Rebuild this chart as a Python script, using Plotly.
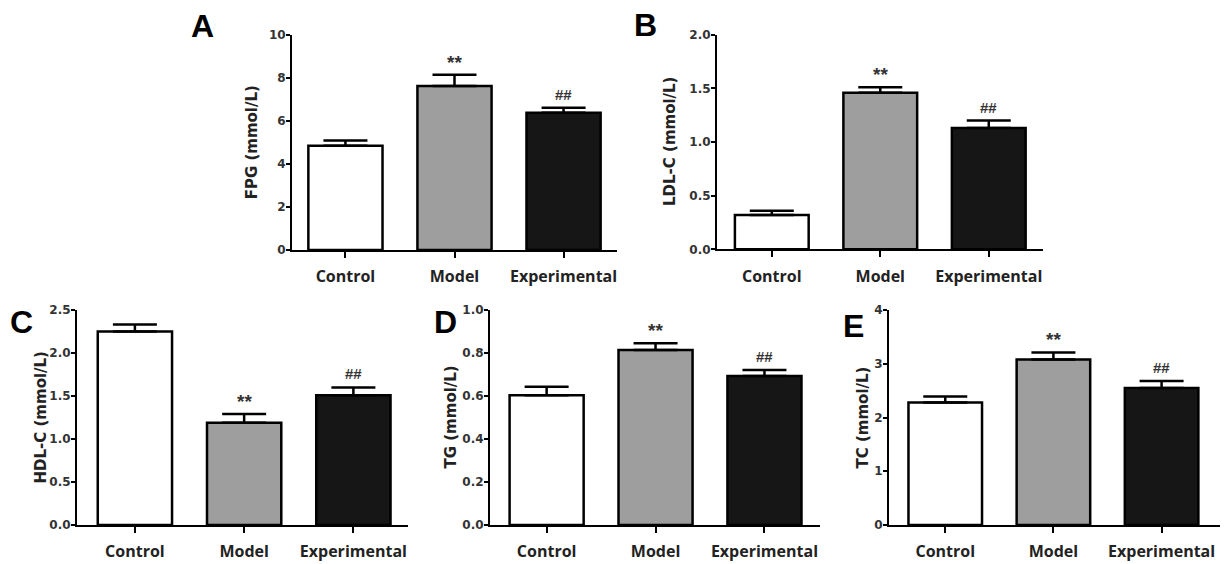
import plotly.graph_objects as go

categories = ["Control", "Model", "Experimental"]
bar_colors = ["#ffffff", "#9e9e9e", "#161616"]

fpg_mean = [4.84, 7.62, 6.38]
fpg_err = [0.25, 0.52, 0.23]
ldl_mean = [0.32, 1.46, 1.13]
ldl_err = [0.04, 0.05, 0.07]
hdl_mean = [2.25, 1.19, 1.51]
hdl_err = [0.08, 0.10, 0.09]
tg_mean = [0.603, 0.814, 0.693]
tg_err = [0.04, 0.031, 0.028]
tc_mean = [2.28, 3.08, 2.55]
tc_err = [0.11, 0.13, 0.13]

sig_marks = ["", "**", "##"]

panel_letters = ["A", "B", "C", "D", "E"]
y_titles = ["FPG (mmol/L)", "LDL-C (mmol/L)", "HDL-C (mmol/L)", "TG (mmol/L)", "TC (mmol/L)"]
y_max = [10, 2.0, 2.5, 1.0, 4]
y_dtick = [2, 0.5, 0.5, 0.2, 1]
y_fmt = ["d", ".1f", ".1f", ".1f", "d"]

means = [fpg_mean, ldl_mean, hdl_mean, tg_mean, tc_mean]
errs = [fpg_err, ldl_err, hdl_err, tg_err, tc_err]

OFF = 8  # default page body margin
W, H = 1231 - OFF, 564 - OFF
# pixel layout in the window: (x_left, x_right, y_top, y_bottom)
boxes = [(292, 617, 34.7, 250), (717, 1043, 34.7, 249.3),
         (77, 408, 310, 525), (490, 820, 310, 525), (889, 1220, 310, 525)]
x_ranges = [[-0.49, 2.49], [-0.505, 2.50], [-0.53, 2.50], [-0.52, 2.51], [-0.52, 2.54]]
letter_pos = [(202, 26), (645, 25), (21, 322), (445, 322), (853, 326)]
ytitle_x = [252, 670, 40, 450, 862]


def px(v):
    return (v - OFF) / W


def py(v):
    return 1 - (v - OFF) / H


fig = go.Figure()
tickfont = dict(family="DejaVu Sans", size=12, color="#333333")
catfont = dict(family="Open Sans", size=16, color="#222222")

for i in range(5):
    suffix = "" if i == 0 else str(i + 1)
    xa, ya = "x" + suffix, "y" + suffix
    fig.add_trace(go.Bar(
        x=categories, y=means[i], xaxis=xa, yaxis=ya,
        marker=dict(color=bar_colors, line=dict(color="#000000", width=2.5)),
        width=0.68,
        error_y=dict(type="data", array=errs[i], arrayminus=[0, 0, 0], symmetric=False,
                     color="#000000", thickness=2.5, width=22),
        showlegend=False,
    ))
    x0, x1, yt, yb = boxes[i]
    fig.layout["xaxis" + suffix] = dict(
        domain=[px(x0), px(x1)], anchor=ya, range=x_ranges[i], automargin=False,
        showline=True, linecolor="#000000", linewidth=2,
        ticks="outside", ticklen=6, tickwidth=2, tickcolor="#000000",
        ticklabelstandoff=5, tickprefix="<b>", ticksuffix="</b>",
        tickfont=catfont, showgrid=False, zeroline=False, fixedrange=True,
    )
    fig.layout["yaxis" + suffix] = dict(
        domain=[py(yb), py(yt)], anchor=xa, range=[0, y_max[i]], automargin=False,
        dtick=y_dtick[i], tick0=0, tickformat=y_fmt[i],
        showline=True, linecolor="#000000", linewidth=2,
        ticks="outside", ticklen=4, tickwidth=2, tickcolor="#000000",
        ticklabelstandoff=-2, tickprefix="<b>", ticksuffix="</b>",
        tickfont=tickfont, showgrid=False, zeroline=False, fixedrange=True,
    )
    for j in range(3):
        if sig_marks[j]:
            fig.add_annotation(x=categories[j], y=means[i][j] + errs[i][j], xref=xa, yref=ya,
                               text="<b>%s</b>" % sig_marks[j], showarrow=False, yanchor="bottom",
                               yshift=3 if sig_marks[j] == "##" else 0,
                               font=dict(family="Liberation Sans",
                                         size=19 if sig_marks[j] == "**" else 15,
                                         color="#333333"))
    lx, ly = letter_pos[i]
    fig.add_annotation(x=px(lx), y=py(ly), xref="paper", yref="paper", text="<b>%s</b>" % panel_letters[i],
                       showarrow=False, xanchor="center", yanchor="middle",
                       font=dict(family="Liberation Sans", size=32, color="#000000"))
    fig.add_annotation(x=px(ytitle_x[i]), y=py((yt + yb) / 2), xref="paper", yref="paper",
                       text="<b>%s</b>" % y_titles[i], textangle=-90, showarrow=False,
                       xanchor="center", yanchor="middle",
                       font=dict(family="DejaVu Sans", size=15, color="#222222"))

fig.update_layout(
    width=W, height=H, margin=dict(l=0, r=0, t=0, b=0, autoexpand=False),
    paper_bgcolor="#ffffff", plot_bgcolor="rgba(0,0,0,0)",
    bargap=0.3,
)

fig.write_html("out.html")
